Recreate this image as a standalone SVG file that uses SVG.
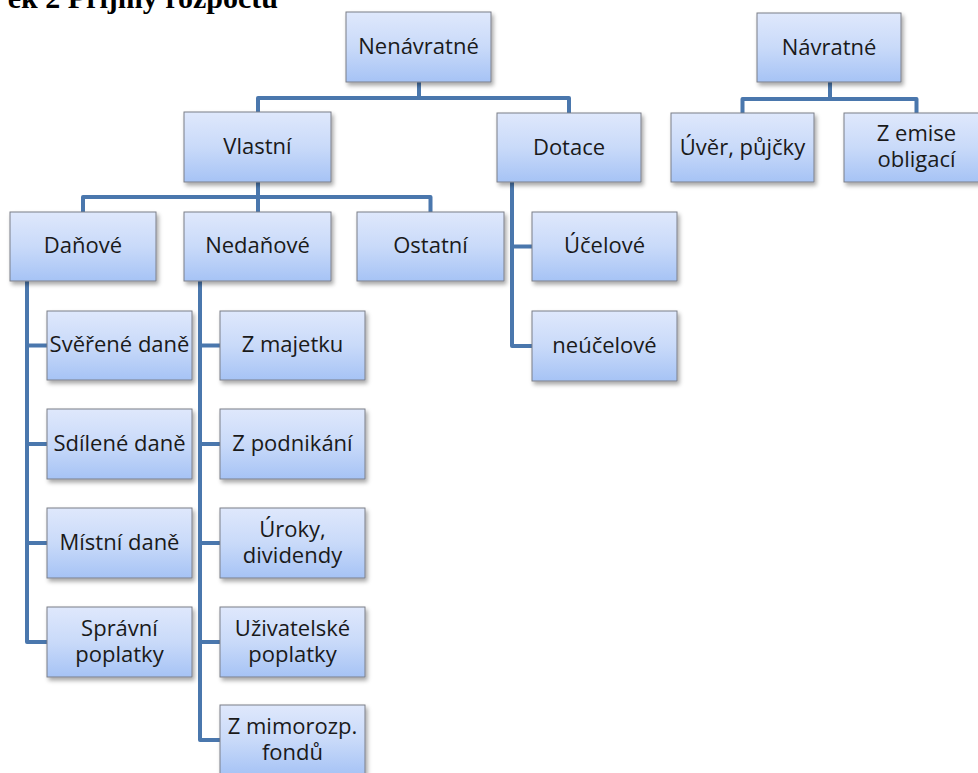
<svg xmlns="http://www.w3.org/2000/svg" width="978" height="773" viewBox="0 0 978 773">
<defs>
<linearGradient id="g" x1="0" y1="0" x2="0" y2="1">
<stop offset="0" stop-color="#dfe8fc"/>
<stop offset="0.5" stop-color="#c9daf9"/>
<stop offset="1" stop-color="#a6c3f5"/>
</linearGradient>
<filter id="sh" x="-10%" y="-10%" width="125%" height="130%">
<feDropShadow dx="2" dy="3" stdDeviation="2" flood-color="#000" flood-opacity="0.35"/>
</filter>
</defs>
<style>
.b{fill:url(#g);stroke:#7b7f88;stroke-width:1;filter:url(#sh)}
.t{font-family:"Open Sans","Noto Sans",sans-serif;font-size:22px;fill:#1a1a1a;text-anchor:middle}
.c{fill:none;stroke:#4a77ad;stroke-width:4;stroke-linejoin:round}
.title{font-family:"Liberation Serif","Times New Roman",serif;font-weight:bold;font-size:30px;fill:#000;text-anchor:end}
</style>
<rect width="978" height="773" fill="#fff"/>
<text class="title" x="278" y="8">ek 2 Příjmy rozpočtu</text>
<g id="connectors">
<path class="c" d="M419,82 V98 M258,112 V98 H569 V113"/>
<path class="c" d="M830,82 V99 M742.5,113 V99 H916.5 V113"/>
<path class="c" d="M258,182 V197 M83,212 V197 H430.5 V212 M258,197 V212"/>
<path class="c" d="M512,182 V346 H532 M512,246.5 H532"/>
<path class="c" d="M27,281 V642 H47 M27,345.5 H47 M27,444 H47 M27,543 H47"/>
<path class="c" d="M200,281 V740 H220 M200,345.5 H220 M200,444 H220 M200,543 H220 M200,642 H220"/>
</g>
<g id="nenavratne"><rect class="b" x="346" y="12" width="145" height="70"/><text class="t" x="418.5" y="54">Nenávratné</text></g>
<g id="navratne"><rect class="b" x="757" y="13" width="144" height="69"/><text class="t" x="829" y="55">Návratné</text></g>
<g id="uver"><rect class="b" x="671" y="113" width="143" height="69"/><text class="t" x="742.5" y="155">Úvěr, půjčky</text></g>
<g id="emise"><rect class="b" x="844" y="113" width="145" height="69"/><text class="t" x="916.5" y="141">Z emise</text><text class="t" x="916.5" y="167">obligací</text></g>
<g id="vlastni"><rect class="b" x="184" y="112" width="147" height="70"/><text class="t" x="257.5" y="154">Vlastní</text></g>
<g id="dotace"><rect class="b" x="497" y="113" width="144" height="69"/><text class="t" x="569" y="155">Dotace</text></g>
<g id="danove"><rect class="b" x="10" y="212" width="146" height="69"/><text class="t" x="83" y="253">Daňové</text></g>
<g id="nedanove"><rect class="b" x="184" y="212" width="147" height="69"/><text class="t" x="257.5" y="253">Nedaňové</text></g>
<g id="ostatni"><rect class="b" x="357" y="212" width="147" height="69"/><text class="t" x="430.5" y="253">Ostatní</text></g>
<g id="ucelove"><rect class="b" x="532" y="212" width="145" height="69"/><text class="t" x="604.5" y="253">Účelové</text></g>
<g id="neucelove"><rect class="b" x="532" y="311" width="145" height="70"/><text class="t" x="604.5" y="353">neúčelové</text></g>
<g id="sverene"><rect class="b" x="47" y="311" width="145" height="69"/><text class="t" x="119.5" y="352">Svěřené daně</text></g>
<g id="sdilene"><rect class="b" x="47" y="409" width="145" height="70"/><text class="t" x="119.5" y="451">Sdílené daně</text></g>
<g id="mistni"><rect class="b" x="47" y="508" width="145" height="70"/><text class="t" x="119.5" y="550">Místní daně</text></g>
<g id="spravni"><rect class="b" x="47" y="607" width="145" height="70"/><text class="t" x="119.5" y="636">Správní</text><text class="t" x="119.5" y="662">poplatky</text></g>
<g id="majetek"><rect class="b" x="220" y="311" width="145" height="69"/><text class="t" x="292.5" y="352">Z majetku</text></g>
<g id="podnikani"><rect class="b" x="220" y="409" width="145" height="70"/><text class="t" x="292.5" y="451">Z podnikání</text></g>
<g id="uroky"><rect class="b" x="220" y="508" width="145" height="70"/><text class="t" x="292.5" y="537">Úroky,</text><text class="t" x="292.5" y="563">dividendy</text></g>
<g id="uzivatelske"><rect class="b" x="220" y="607" width="145" height="70"/><text class="t" x="292.5" y="636">Uživatelské</text><text class="t" x="292.5" y="662">poplatky</text></g>
<g id="mimorozp"><rect class="b" x="220" y="705" width="145" height="70"/><text class="t" x="292.5" y="734">Z mimorozp.</text><text class="t" x="292.5" y="760">fondů</text></g>
</svg>
